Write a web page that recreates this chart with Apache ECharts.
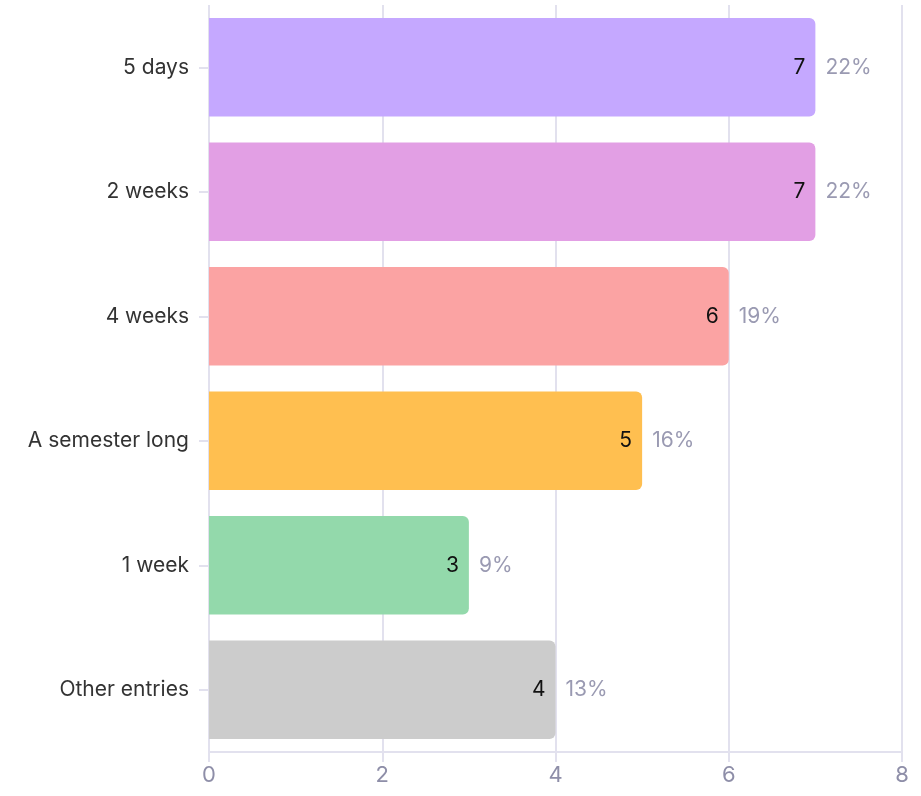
<!DOCTYPE html>
<html>
<head>
<meta charset="utf-8">
<script src="https://cdn.jsdelivr.net/npm/echarts@6/dist/echarts.min.js"></script>
<style>
  html, body { margin: 0; padding: 0; background: #fff; }
  #chart { width: 921px; height: 796px; }
</style>
</head>
<body>
<div id="chart"></div>
<script>
// categories, top to bottom as drawn
const categories = ["5 days", "2 weeks", "4 weeks", "A semester long", "1 week", "Other entries"];
const counts = [7, 7, 6, 5, 3, 4];
const percents = ["22%", "22%", "19%", "16%", "9%", "13%"];
const barColors = ["#c5a8ff", "#e29fe4", "#fba3a3", "#ffbf50", "#93d9ab", "#cccccc"];
const xTicks = [0, 2, 4, 6, 8];

const FONT = "Inter";
const gridColor = "#e2e1ee";

let chart = echarts.init(document.getElementById("chart"), null, { renderer: "canvas" });

let option = {
  backgroundColor: "#fff",
  animation: false,
  textStyle: { fontFamily: FONT },
  grid: { left: 209, right: 19, top: 5, bottom: 44, containLabel: false },
  xAxis: {
    type: "value",
    min: xTicks[0],
    max: xTicks[xTicks.length - 1],
    interval: 2,
    axisLine: { show: true, lineStyle: { color: gridColor, width: 2 } },
    axisTick: { show: true, length: 10, lineStyle: { color: gridColor, width: 2 } },
    splitLine: { show: true, lineStyle: { color: gridColor, width: 2 } },
    axisLabel: { color: "#8e8ea8", fontSize: 22, margin: 12, fontFamily: FONT }
  },
  yAxis: {
    type: "category",
    inverse: true,
    data: categories,
    axisLine: { show: false },
    axisTick: { show: true, alignWithLabel: true, length: 10, lineStyle: { color: gridColor, width: 2 } },
    axisLabel: { color: "#333", fontSize: 21, margin: 20, fontFamily: FONT }
  },
  series: [
    {
      // main bars with count inside
      type: "bar",
      barCategoryGap: "21%",
      data: counts.map((v, i) => ({
        value: v,
        itemStyle: { color: barColors[i], borderRadius: [0, 6, 6, 0] }
      })),
      label: {
        show: true,
        position: "insideRight",
        distance: 10,
        color: "#111",
        fontSize: 21,
        fontFamily: FONT
      },
      z: 3
    },
    {
      // invisible overlay carrying the percent label
      type: "bar",
      barGap: "-100%",
      barCategoryGap: "21%",
      data: counts,
      itemStyle: { color: "transparent" },
      label: {
        show: true,
        position: "right",
        distance: 10,
        color: "#9a9ab2",
        fontSize: 21,
        fontFamily: FONT,
        formatter: p => percents[p.dataIndex]
      },
      silent: true,
      z: 4
    }
  ]
};

if (chart) {
  chart.setOption(option);
}
</script>
</body>
</html>
